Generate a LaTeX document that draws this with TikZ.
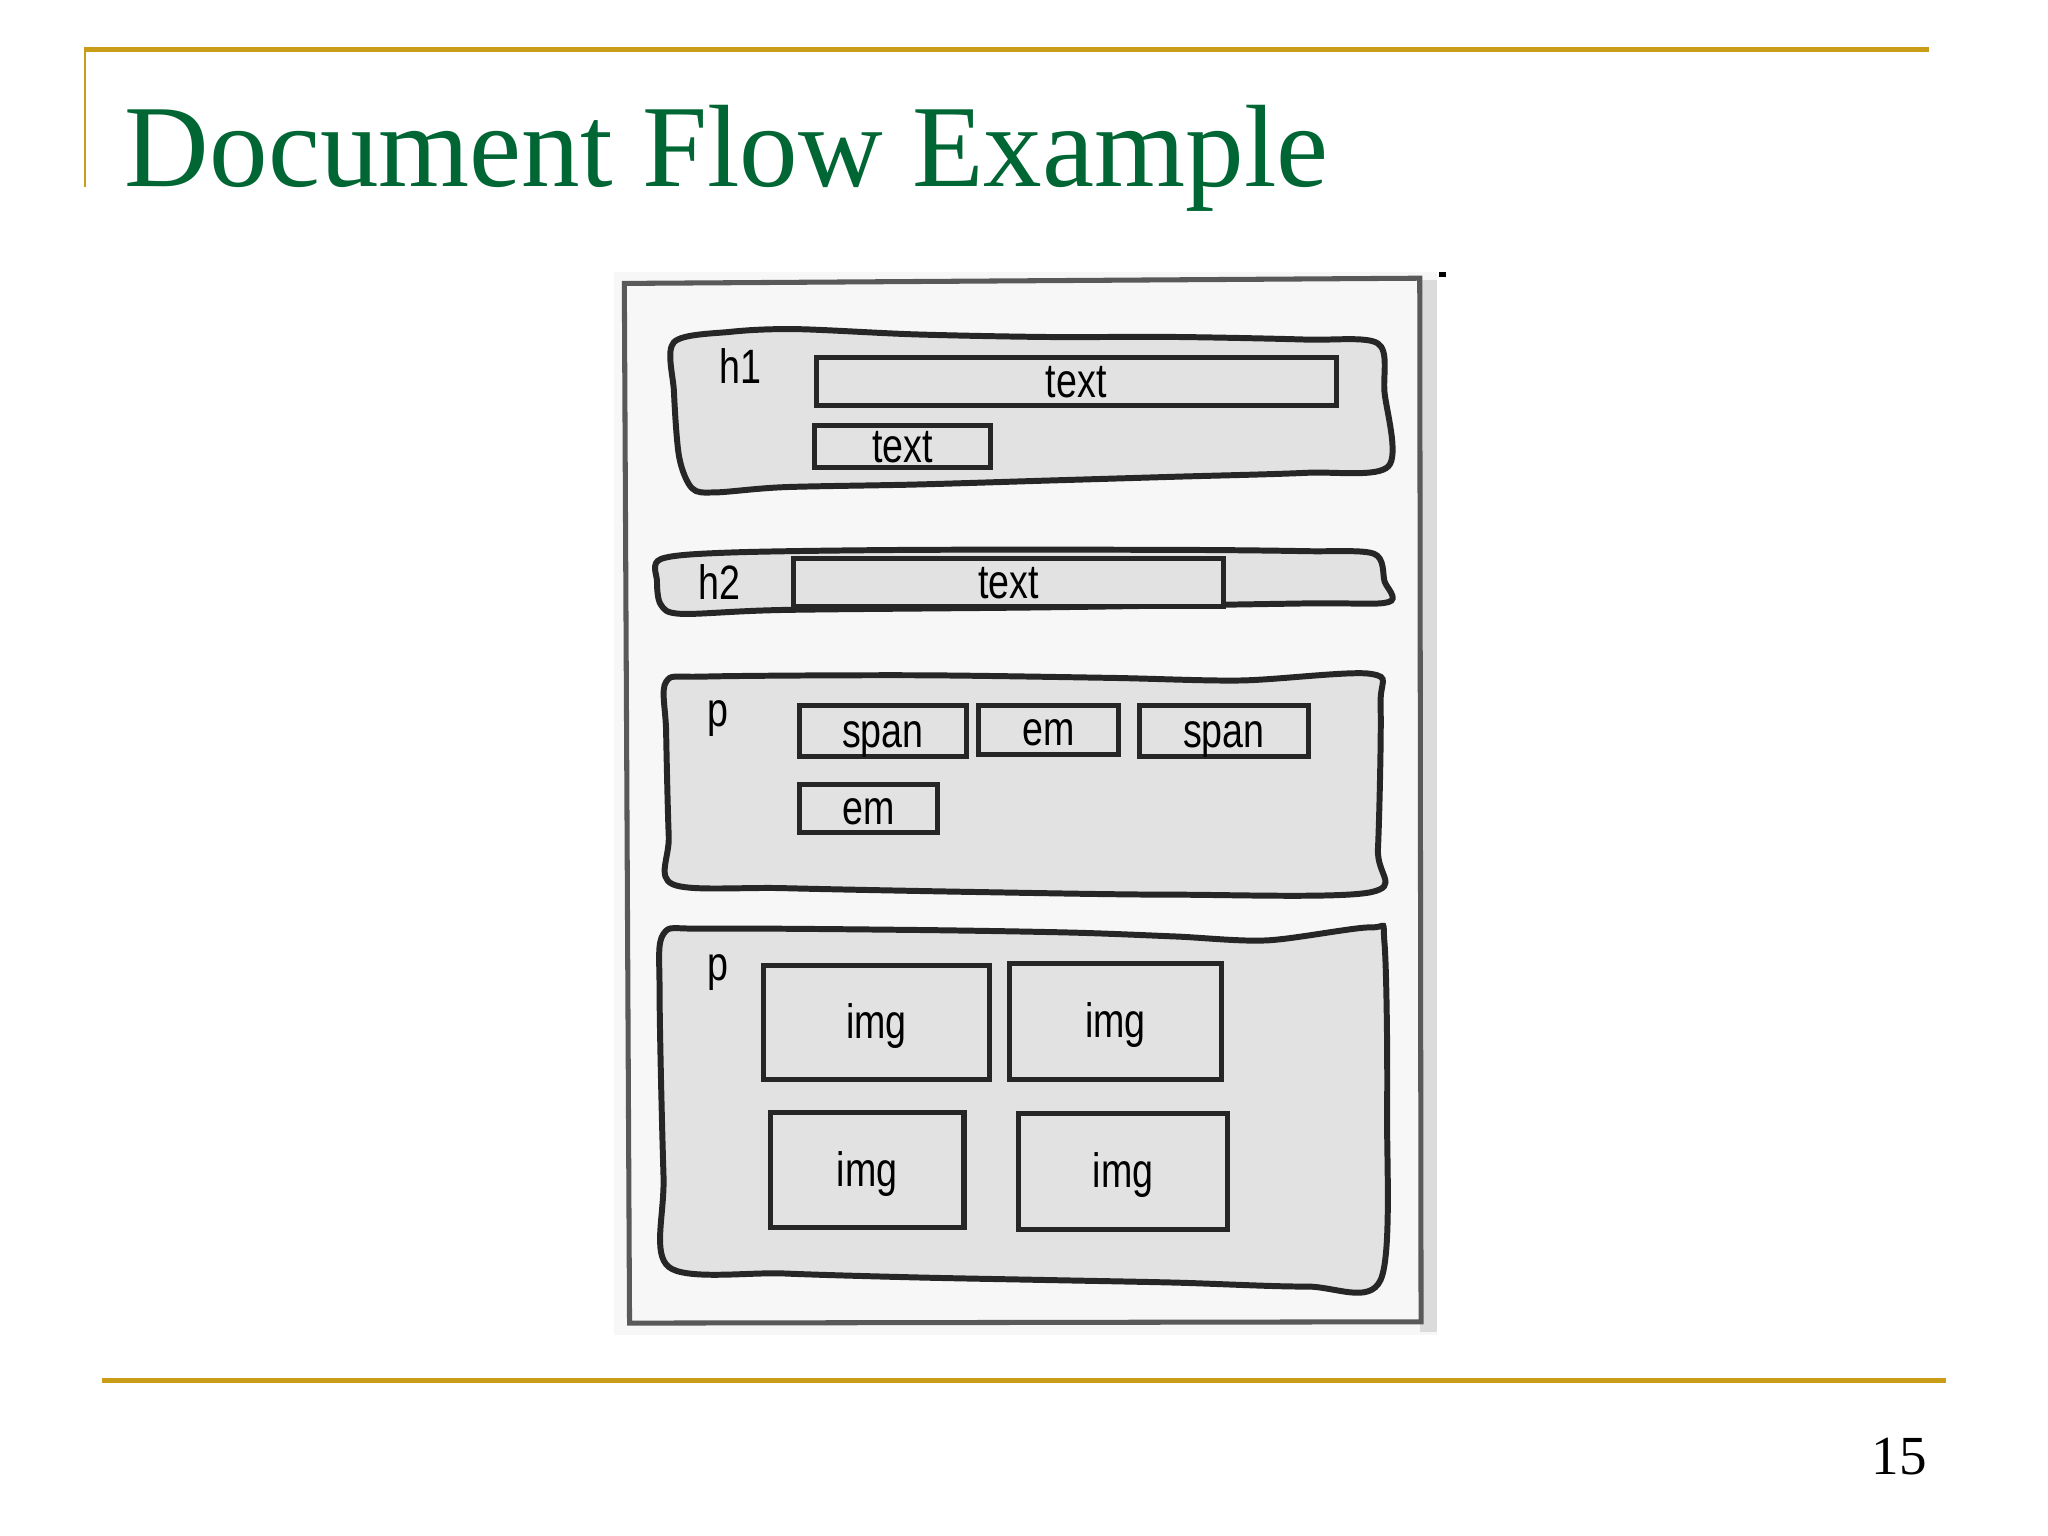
\documentclass[tikz,border=0pt]{standalone}
\usepackage{fontspec}
\setmainfont{Liberation Serif}
\newfontfamily\sketchfont[FakeStretch=0.78]{Liberation Sans}
\definecolor{slidegold}{RGB}{201,157,24}
\definecolor{slidegreen}{RGB}{0,102,51}
\definecolor{sketchgray}{RGB}{226,226,226}
\tikzstyle{goldrule}=[draw=slidegold,line width=1pt]
\tikzstyle{blob}=[draw=black!85,fill=sketchgray,line width=1.3pt]
\tikzstyle{inbox}=[draw=black!85,fill=sketchgray,line width=1.1pt,inner sep=0pt,text height=1.5ex,text depth=-0.17ex,font=\sketchfont\fontsize{10.5}{12}\selectfont]
\tikzstyle{tag}=[anchor=base west,inner sep=0pt,font=\sketchfont\fontsize{10.5}{12}\selectfont]

\begin{document}
\begin{tikzpicture}[x=0.01cm,y=-0.01cm]
\useasboundingbox (0,0) rectangle (1568,1176);
\fill[white] (0,0) rectangle (1568,1176);
\draw[goldrule,line width=1.1pt] (64,38) -- (1477,38);
\draw[goldrule,line width=0.6pt] (65,38) -- (65,143);
\draw[goldrule] (78,1057) -- (1490,1057);
\node (title) [anchor=base west,inner sep=0pt,text=slidegreen,font=\fontsize{25.5}{30}\selectfont] at (95,143) {Document Flow Example};
\node (page) [anchor=base,inner sep=0pt,font=\fontsize{12}{14}\selectfont] at (1454,1129) {15};

\fill[black!3] (470,208) rectangle (1100,1022);
\fill[black!14] (1087,214) rectangle (1100,1020);
\draw[black!65,line width=1.1pt] (478,217) -- (1087,213) -- (1088,1012) -- (482,1013) -- cycle;
\draw[black,line width=1pt] (1102,210) -- (1107,210);

\draw[blob] plot[smooth cycle,tension=0.5] coordinates {(516,262) (560,254) (610,252) (700,256) (800,258) (900,258) (1000,260) (1055,263) (1060,300) (1063,357) (1000,362) (900,365) (800,368) (700,371) (600,373) (548,377) (530,374) (520,350) (516,300)};
\node (h1) [tag] at (550,294) {h1};
\node (h1text) [inbox,minimum width=3.98cm,minimum height=0.37cm] at (824,292) {text};
\node (h1more) [inbox,minimum width=1.35cm,minimum height=0.32cm] at (691,342) {text};

\draw[blob] plot[smooth cycle,tension=0.5] coordinates {(506,428) (560,423) (700,421) (900,421) (1000,422) (1052,424) (1060,445) (1063,461) (1000,462) (800,465) (600,467) (522,470) (506,463) (503,445)};
\node (h2) [tag] at (534,459) {h2};
\node (h2text) [inbox,minimum width=3.29cm,minimum height=0.37cm] at (772,446) {text};

\draw[blob] plot[smooth cycle,tension=0.5] coordinates {(510,522) (540,518) (700,517) (850,519) (950,521) (1050,516) (1057,540) (1055,650) (1050,683) (900,685) (750,683) (600,680) (515,677) (512,640) (510,560)};
\node (p1) [tag] at (541,556) {p};
\node (span1) [inbox,minimum width=1.28cm,minimum height=0.39cm] at (676,560) {span};
\node (em1) [inbox,minimum width=1.07cm,minimum height=0.37cm] at (803,559) {em};
\node (span2) [inbox,minimum width=1.29cm,minimum height=0.39cm] at (937,560) {span};
\node (em2) [inbox,minimum width=1.06cm,minimum height=0.37cm] at (665,619) {em};

\draw[blob] plot[smooth cycle,tension=0.5] coordinates {(508,715) (540,711) (700,712) (820,714) (900,717) (970,720) (1050,710) (1060,722) (1062,850) (1057,980) (1000,985) (900,982) (800,980) (700,978) (600,975) (512,970) (508,900) (505,760)};
\node (p2) [tag] at (541,751) {p};
\node (img1) [inbox,minimum width=1.73cm,minimum height=0.87cm] at (671,783) {img};
\node (img2) [inbox,minimum width=1.62cm,minimum height=0.89cm] at (854,782) {img};
\node (img3) [inbox,minimum width=1.48cm,minimum height=0.88cm] at (664,896) {img};
\node (img4) [inbox,minimum width=1.60cm,minimum height=0.89cm] at (860,897) {img};
\end{tikzpicture}
\end{document}
